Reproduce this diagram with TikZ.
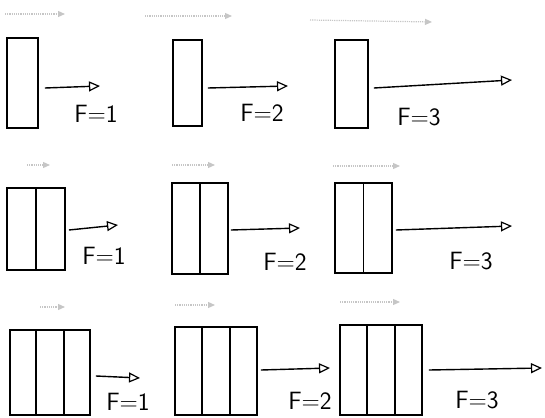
\documentclass[tikz,border=0pt]{standalone}
\usetikzlibrary{arrows.meta,calc}
\begin{document}
\begin{tikzpicture}[x=1pt,y=-1pt,
  box/.style={draw,line width=1.9pt,inner sep=0pt},
  divider/.style={line width=1.8pt},
  arr/.style={line width=1.4pt,-{Triangle[open,length=11pt,width=10pt,line width=1.2pt]}},
  ghost/.style={gray!45,line width=1.2pt,densely dotted,-{Triangle[length=7pt,width=6pt]}},
  lbl/.style={font=\sffamily\fontsize{25}{27}\selectfont,inner sep=0pt}]
\useasboundingbox (0,0) rectangle (545,417);
% row 1
\node[box,minimum width=31pt,minimum height=90pt] (b11) at (22.5,83) {};
\node[box,minimum width=29pt,minimum height=86pt] (b12) at (187.5,83) {};
\node[box,minimum width=33pt,minimum height=88pt] (b13) at (351.5,84) {};
% row 2
\node[box,minimum width=58pt,minimum height=82pt] (b21) at (36,229) {};
\node[box,minimum width=56pt,minimum height=91pt] (b22) at (200,228.5) {};
\node[box,minimum width=57pt,minimum height=90pt] (b23) at (363.5,228) {};
% row 3
\node[box,minimum width=80pt,minimum height=85pt] (b31) at (50,372.5) {};
\node[box,minimum width=82pt,minimum height=88pt] (b32) at (216,371) {};
\node[box,minimum width=82pt,minimum height=90pt] (b33) at (381,370) {};
% dividers
\foreach \b in {b21,b22,b23}{
  \draw[divider] ($(\b.north west)!0.5!(\b.north east)$) -- ($(\b.south west)!0.5!(\b.south east)$);}
\foreach \b in {b31,b32,b33}{
  \draw[divider] ($(\b.north west)!0.333!(\b.north east)$) -- ($(\b.south west)!0.333!(\b.south east)$);
  \draw[divider] ($(\b.north west)!0.667!(\b.north east)$) -- ($(\b.south west)!0.667!(\b.south east)$);}
% arrow ends
\coordinate (e11) at (100,86);
\coordinate (e12) at (288,86);
\coordinate (e13) at (512,80);
\coordinate (e21) at (118,225);
\coordinate (e22) at (300,228);
\coordinate (e23) at (512,226);
\coordinate (e31) at (140,378);
\coordinate (e32) at (330,368);
\coordinate (e33) at (542,368);
% arrows
\draw[arr] ([xshift=6pt,yshift=-5pt]b11.east) -- (e11);
\draw[arr] ([xshift=5pt,yshift=-5pt]b12.east) -- (e12);
\draw[arr] ([xshift=5pt,yshift=-4pt]b13.east) -- (e13);
\draw[arr] ([xshift=3pt,yshift=-1pt]b21.east) -- (e21);
\draw[arr] ([xshift=2pt,yshift=-1.5pt]b22.east) -- (e22);
\draw[arr] ([xshift=3pt,yshift=-2pt]b23.east) -- (e23);
\draw[arr] ([xshift=5pt,yshift=-3.5pt]b31.east) -- (e31);
\draw[arr] ([xshift=3pt,yshift=1pt]b32.east) -- (e32);
\draw[arr] ([xshift=6pt,yshift=0pt]b33.east) -- (e33);
% labels
\node[lbl] (l11) at (96,114) {F=1};
\node[lbl] (l12) at (262,113) {F=2};
\node[lbl] (l13) at (419,117) {F=3};
\node[lbl] (l21) at (104,256) {F=1};
\node[lbl] (l22) at (285,262) {F=2};
\node[lbl] (l23) at (471,261) {F=3};
\node[lbl] (l31) at (128,402) {F=1};
\node[lbl] (l32) at (310,401) {F=2};
\node[lbl] (l33) at (477,400) {F=3};
% faint erased arrows above the boxes
\coordinate (g11) at (5,14);   \coordinate (h11) at (65,14);
\coordinate (g12) at (145,16); \coordinate (h12) at (232,16);
\coordinate (g13) at (310,20); \coordinate (h13) at (432,22);
\coordinate (g21) at (27,165); \coordinate (h21) at (50,165);
\coordinate (g22) at (172,165);\coordinate (h22) at (215,165);
\coordinate (g23) at (333,166);\coordinate (h23) at (400,166);
\coordinate (g31) at (40,307); \coordinate (h31) at (65,307);
\coordinate (g32) at (175,305);\coordinate (h32) at (215,305);
\coordinate (g33) at (340,302);\coordinate (h33) at (400,302);
\foreach \i in {11,12,13,21,22,23,31,32,33}{\draw[ghost] (g\i) -- (h\i);}
\end{tikzpicture}
\end{document}
